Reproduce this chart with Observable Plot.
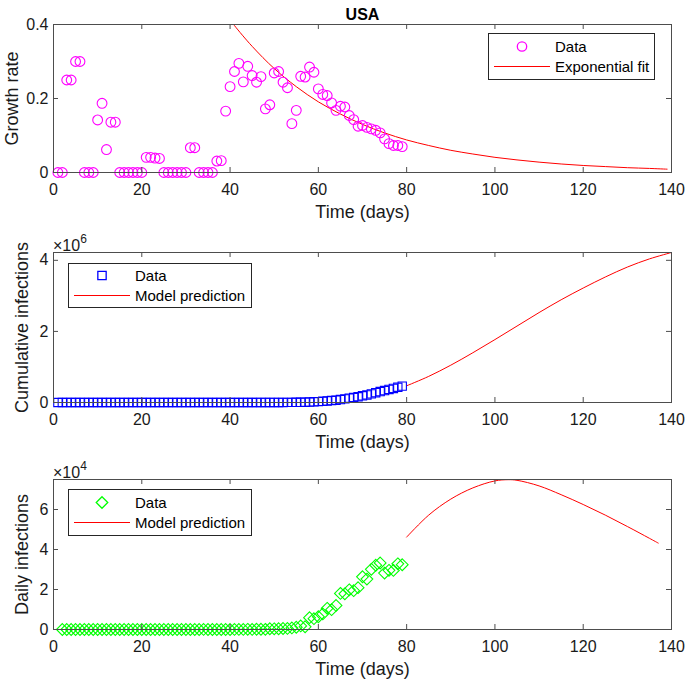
<!DOCTYPE html>
<html><head><meta charset="utf-8">
<script src="https://cdn.jsdelivr.net/npm/d3@7"></script>
<script src="https://cdn.jsdelivr.net/npm/@observablehq/plot@0.6"></script>
<style>
body{margin:0;background:#fff;font-family:"Liberation Sans",Arial,sans-serif;}
#wrap{position:relative;width:685px;height:683px;overflow:hidden;}
.panel{position:absolute;left:0;}
.mult{position:absolute;font-size:16px;color:#1a1a1a;line-height:18px;}
.mult sup{font-size:12px;position:relative;top:-2px;}
.legend{position:absolute;}
</style></head><body><div id="wrap"></div>
<script>
// ---------- data ----------
const xTickValues = [0, 20, 40, 60, 80, 100, 120, 140];

// growth rate, days 1..79
const growthFirstDay = 1;
const growthRate = [
  0, 0, 0.25, 0.25, 0.30, 0.30, 0, 0, 0, 0.142,
  0.187, 0.062, 0.136, 0.136, 0, 0, 0, 0, 0, 0,
  0.041, 0.041, 0.039, 0.038, 0, 0, 0, 0, 0, 0,
  0.067, 0.067, 0, 0, 0, 0, 0.031, 0.032, 0.166, 0.232,
  0.273, 0.295, 0.245, 0.287, 0.262, 0.244, 0.259, 0.172, 0.183, 0.269,
  0.273, 0.244, 0.229, 0.132, 0.168, 0.260, 0.258, 0.285, 0.271, 0.226,
  0.211, 0.208, 0.188, 0.168, 0.179, 0.177, 0.154, 0.143, 0.125, 0.127,
  0.122, 0.118, 0.114, 0.107, 0.091, 0.078, 0.073, 0.073, 0.070
];
const expFitDays = [40, 41, 45, 50, 55, 60, 65, 70, 75, 80, 85, 90, 95, 100, 105, 110, 115, 120, 125, 130, 135, 139];
const expFitValues = [0.413, 0.397, 0.341, 0.281, 0.232, 0.191, 0.158, 0.130, 0.107, 0.088, 0.073, 0.060, 0.050, 0.041, 0.034, 0.028, 0.023, 0.019, 0.016, 0.013, 0.011, 0.009];

// cumulative infections, days 1..79
const cumFirstDay = 1;
const cumulative = [
  1, 1, 2, 2, 5, 5, 5, 5, 5, 6,
  8, 8, 11, 11, 11, 12, 12, 12, 12, 12,
  13, 13, 14, 14, 14, 14, 14, 14, 14, 14,
  15, 15, 15, 51, 51, 57, 58, 60, 68, 74,
  98, 118, 149, 217, 262, 402, 518, 583, 959, 1281,
  1663, 2179, 2726, 3499, 4632, 6421, 7786, 13680, 19101, 25493,
  33276, 43847, 53740, 65778, 83836, 101657, 121478, 140886, 161807, 188172,
  213372, 243453, 275586, 308850, 337072, 366667, 396223, 429052, 461437
];
const cumModelDays = [80, 85, 90, 95, 100, 105, 110, 115, 120, 125, 130, 135, 140];
const cumModel = [470000, 735000, 1050000, 1400000, 1770000, 2150000, 2530000, 2890000, 3220000, 3530000, 3810000, 4040000, 4220000];

// daily infections, days 2..79
const dailyFirstDay = 2;
const daily = [
  0, 1, 0, 3, 0, 0, 0, 0, 1, 2,
  0, 3, 0, 0, 1, 0, 0, 0, 0, 1,
  0, 1, 0, 0, 0, 0, 0, 0, 0, 1,
  0, 0, 36, 0, 6, 1, 2, 8, 6, 24,
  20, 31, 68, 45, 140, 116, 65, 376, 322, 382,
  516, 547, 773, 1133, 1789, 1365, 5894, 5421, 6392, 7783,
  10571, 9893, 12038, 18058, 17821, 19821, 19408, 20921, 26365, 25200,
  30081, 32133, 33264, 28222, 29595, 29556, 32829, 32385
];
const dailyModelDays = [80, 85, 90, 95, 100, 103, 105, 110, 115, 120, 125, 130, 135, 137];
const dailyModel = [46200, 57200, 65200, 70800, 74300, 74900, 74600, 71800, 67400, 62500, 57200, 51500, 45600, 43200];

// ---------- drawing ----------
const W = 685, ML = 53, MR = 14;
const FONT = "Liberation Sans, Arial, Helvetica, sans-serif";
const AX = "#4d4d4d";
const wrap = document.getElementById("wrap");

function panel({top, height, mt, mb, yDomain, yTicks, yFmt, yLabel, yLabelDx, marks, extra = []}) {
  const ph = height - mt - mb, pw = W - ML - MR;
  const svg = Plot.plot({
    width: W, height, marginLeft: ML, marginRight: MR, marginTop: mt, marginBottom: mb,
    style: {fontFamily: FONT, fontSize: "16px", color: "#1a1a1a", background: "transparent", overflow: "visible"},
    x: {domain: [0, 140], ticks: xTickValues, tickSize: 0, tickPadding: 11, label: null},
    y: {domain: yDomain, ticks: yTicks, tickSize: 0, tickPadding: 5, tickFormat: yFmt, label: null},
    marks: [
      ...marks,
      Plot.ruleX(xTickValues, {insetTop: ph - 5, stroke: AX}),
      Plot.ruleX(xTickValues, {insetBottom: ph - 5, stroke: AX}),
      Plot.ruleY(yTicks, {insetRight: pw - 5, stroke: AX}),
      Plot.ruleY(yTicks, {insetLeft: pw - 5, stroke: AX}),
      Plot.frame({stroke: AX, strokeWidth: 1}),
      Plot.text(["Time (days)"], {frameAnchor: "bottom", dy: 45, fontSize: 18, fill: "#1a1a1a"}),
      Plot.text([yLabel], {frameAnchor: "left", textAnchor: "middle", dx: yLabelDx, rotate: -90, fontSize: 18, fill: "#1a1a1a"}),
      ...extra
    ]
  });
  svg.classList.add("panel");
  svg.style.top = top + "px";
  wrap.appendChild(svg);
}

const growthRows = growthRate.map((v, i) => ({t: growthFirstDay + i, v}));
const expRows = expFitDays.map((t, i) => ({t, v: expFitValues[i]}));
const cumRows = cumulative.map((v, i) => ({t: cumFirstDay + i, v}));
const cumModelRows = cumModelDays.map((t, i) => ({t, v: cumModel[i]}));
const dailyRows = daily.map((v, i) => ({t: dailyFirstDay + i, v}));
const dailyModelRows = dailyModelDays.map((t, i) => ({t, v: dailyModel[i]}));

panel({
  top: 0, height: 228, mt: 24, mb: 56,
  yDomain: [0, 0.4], yTicks: [0, 0.2, 0.4], yFmt: d => String(+d.toFixed(1)),
  yLabel: "Growth rate", yLabelDx: -41,
  marks: [
    Plot.line(expRows, {x: "t", y: "v", stroke: "#ff0000", strokeWidth: 1, curve: "catmull-rom", clip: true}),
    Plot.dot(growthRows, {x: "t", y: "v", r: 4.9, stroke: "#ff00ff", strokeWidth: 1.1, fill: "none"})
  ],
  extra: [Plot.text(["USA"], {frameAnchor: "top", dy: -16, fontSize: 16, fontWeight: "bold", fill: "#000"})]
});

panel({
  top: 228, height: 228, mt: 24, mb: 54,
  yDomain: [0, 4220000], yTicks: [0, 2000000, 4000000], yFmt: d => String(d / 1e6),
  yLabel: "Cumulative infections", yLabelDx: -31,
  marks: [
    Plot.line(cumModelRows, {x: "t", y: "v", stroke: "#ff0000", strokeWidth: 1, curve: "catmull-rom"}),
    Plot.dot(cumRows, {x: "t", y: "v", symbol: "square", r: 4.7, stroke: "#0000ff", strokeWidth: 1.1, fill: "none"})
  ]
});

panel({
  top: 456, height: 227, mt: 23, mb: 54,
  yDomain: [0, 75000], yTicks: [0, 20000, 40000, 60000], yFmt: d => String(d / 1e4),
  yLabel: "Daily infections", yLabelDx: -31,
  marks: [
    Plot.line(dailyModelRows, {x: "t", y: "v", stroke: "#ff0000", strokeWidth: 1, curve: "catmull-rom"}),
    Plot.dot(dailyRows, {x: "t", y: "v", symbol: "diamond2", r: 5.3, stroke: "#00ff00", strokeWidth: 1.1, fill: "none"})
  ]
});

// multipliers
function mult(left, top, exp) {
  const d = document.createElement("div");
  d.className = "mult";
  d.style.left = left + "px"; d.style.top = top + "px";
  d.innerHTML = "\u00d710<sup>" + exp + "</sup>";
  wrap.appendChild(d);
}
mult(53, 232, "6");
mult(53, 459, "4");

// legends
function legend(left, top, w, h, symbol, color, label2) {
  const svg = d3.create("svg").attr("width", w).attr("height", h)
    .attr("class", "legend").style("left", left + "px").style("top", top + "px");
  svg.append("rect").attr("x", 0.5).attr("y", 0.5).attr("width", w - 1).attr("height", h - 1)
    .attr("fill", "#fff").attr("stroke", "#262626").attr("stroke-width", 1);
  const sym = d3.symbol().type(symbol === "circle" ? d3.symbolCircle : symbol === "square" ? d3.symbolSquare : d3.symbolDiamond2)
    .size(Math.PI * (symbol === "diamond" ? 27 : 4.7 * 4.7));
  svg.append("path").attr("d", sym()).attr("transform", `translate(34,${h / 2 - 10})`)
    .attr("fill", "none").attr("stroke", color).attr("stroke-width", 1.3);
  svg.append("line").attr("x1", 6).attr("x2", 62).attr("y1", h / 2 + 10).attr("y2", h / 2 + 10)
    .attr("stroke", "#ff0000").attr("stroke-width", 1.2);
  const tx = svg.append("g").attr("font-family", FONT).attr("font-size", 15).attr("fill", "#000");
  tx.append("text").attr("x", 67).attr("y", h / 2 - 10).attr("dy", "0.35em").text("Data");
  tx.append("text").attr("x", 67).attr("y", h / 2 + 10).attr("dy", "0.35em").text(label2);
  wrap.appendChild(svg.node());
}
legend(488, 33, 167, 47, "circle", "#ff00ff", "Exponential fit");
legend(68, 263, 184, 45, "square", "#0000ff", "Model prediction");
legend(68, 489, 184, 47, "diamond", "#00ff00", "Model prediction");
</script>
</body></html>
